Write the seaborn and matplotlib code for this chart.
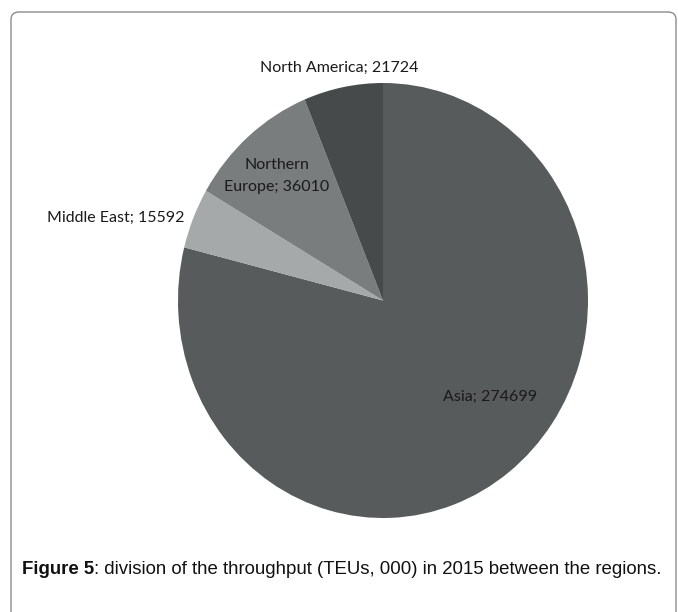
import matplotlib
matplotlib.use("Agg")
import matplotlib.pyplot as plt
import seaborn as sns
import numpy as np
from matplotlib.patches import FancyBboxPatch

regions = ["Asia", "Middle East", "Northern\nEurope", "North America"]
values = [274699, 15592, 36010, 21724]
colors = ["#585b5b", "#a6a9a9", "#7a7d7d", "#474a4a"]
caption_bold = "Figure 5"
caption_rest = ": division of the throughput (TEUs, 000) in 2015 between the regions."

sns.set_theme(style="white")
plt.rcParams["font.family"] = ["Lato", "DejaVu Sans"]

W, H = 678, 612
fig = plt.figure(figsize=(W / 100, H / 100), dpi=100)

def fx(px):
    return px / W

def fy(py):
    return 1 - py / H

# frame
frame = FancyBboxPatch((fx(11), fy(640)), fx(676) - fx(11), fy(12) - fy(640),
                       boxstyle="round,pad=0,rounding_size=0.012",
                       transform=fig.transFigure, facecolor="none",
                       edgecolor="#8c8c8c", linewidth=1.0, zorder=0)
fig.patches.append(frame)

# pie axes (slightly elliptical like the reference)
left, right, top, bottom = 178, 588, 83, 518
ax = fig.add_axes([fx(left), fy(bottom), fx(right) - fx(left), fy(top) - fy(bottom)])
ax.pie(values, colors=colors, startangle=90, counterclock=False,
       wedgeprops=dict(linewidth=0))
ax.set_xlim(-1, 1)
ax.set_ylim(-1, 1)
ax.set_aspect("auto")
ax.axis("off")

labels = [f"{r}; {v}" for r, v in zip(regions, values)]
label_pos = [(490, 397), (116, 218), (277, 176), (339, 68)]
for lab, (px, py) in zip(labels, label_pos):
    fig.text(fx(px), fy(py), lab, ha="center", va="center", fontsize=11.5,
             color="#1a1a1a", linespacing=1.75)

# caption
fig.canvas.draw()
t1 = fig.text(fx(22), fy(569), caption_bold, fontsize=13.45, fontweight="bold",
              family=["Liberation Sans", "DejaVu Sans"], ha="left", va="center", color="#111111")
r = fig.canvas.get_renderer()
bb = t1.get_window_extent(renderer=r)
fig.text(bb.x1 / W, fy(569), caption_rest, fontsize=13.45,
         family=["Liberation Sans", "DejaVu Sans"], ha="left", va="center", color="#111111")

fig.savefig("out.png", dpi=100)
